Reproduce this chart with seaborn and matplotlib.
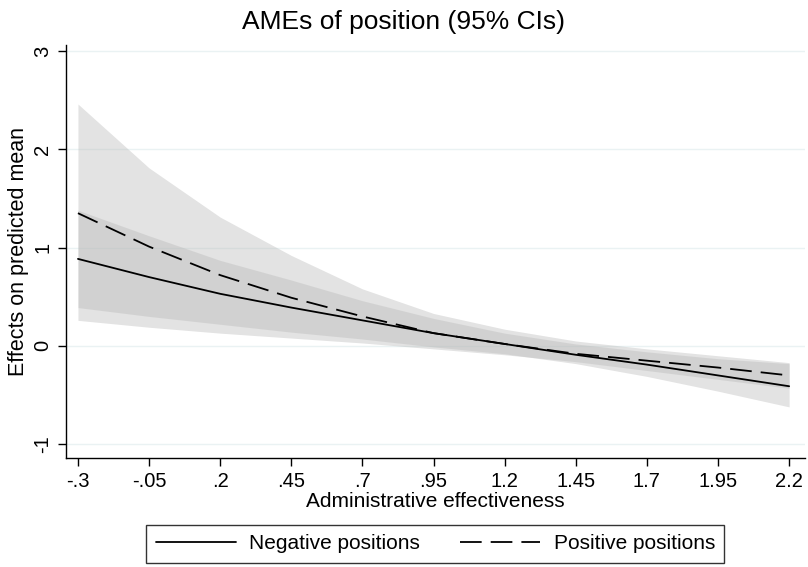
import numpy as np
import pandas as pd
import matplotlib
matplotlib.use("Agg")
import matplotlib.pyplot as plt
import seaborn as sns

# ---- data ----
x_vals = [-0.3, -0.05, 0.2, 0.45, 0.7, 0.95, 1.2, 1.45, 1.7, 1.95, 2.2]
x_tick_labels = ["-.3", "-.05", ".2", ".45", ".7", ".95", "1.2", "1.45", "1.7", "1.95", "2.2"]

neg_mean = [0.885, 0.70, 0.53, 0.39, 0.26, 0.13, 0.02, -0.09, -0.19, -0.30, -0.41]
neg_lo = [0.39, 0.30, 0.22, 0.14, 0.07, -0.01, -0.08, -0.18, -0.31, -0.46, -0.62]
neg_hi = [1.38, 1.12, 0.87, 0.67, 0.46, 0.28, 0.13, 0.02, -0.06, -0.13, -0.18]

pos_mean = [1.35, 1.01, 0.72, 0.49, 0.30, 0.13, 0.02, -0.08, -0.15, -0.22, -0.30]
pos_lo = [0.26, 0.19, 0.13, 0.08, 0.03, -0.03, -0.09, -0.16, -0.25, -0.34, -0.43]
pos_hi = [2.46, 1.81, 1.31, 0.92, 0.58, 0.33, 0.17, 0.05, -0.03, -0.10, -0.17]

y_ticks = [-1, 0, 1, 2, 3]
series_names = ["Negative positions", "Positive positions"]

df = pd.DataFrame({
    "x": x_vals * 2,
    "y": neg_mean + pos_mean,
    "series": [series_names[0]] * len(x_vals) + [series_names[1]] * len(x_vals),
})

sns.set_theme(style="white")
plt.rcParams["font.family"] = ["Liberation Sans", "DejaVu Sans"]
plt.rcParams["text.color"] = "black"
plt.rcParams["axes.labelcolor"] = "black"
plt.rcParams["xtick.color"] = "black"
plt.rcParams["ytick.color"] = "black"

FS = 15

fig = plt.figure(figsize=(8.08, 5.67), dpi=100)
ax = fig.add_axes([0.0817, 0.1922, 0.9143, 0.7284])

grid_col = "#eaf2f3"
for yt in y_ticks:
    ax.axhline(yt, color=grid_col, lw=1.0, zorder=0)

band_col = "#b7b7b7"
ax.fill_between(x_vals, pos_lo, pos_hi, color=band_col, alpha=0.39, lw=0, zorder=1)
ax.fill_between(x_vals, neg_lo, neg_hi, color=band_col, alpha=0.39, lw=0, zorder=1)

sns.lineplot(data=df, x="x", y="y", style="series", hue="series",
             palette=["black", "black"],
             dashes={series_names[0]: "", series_names[1]: (12, 5)},
             lw=1.3, ax=ax, zorder=3, legend=True)

ax.set_xlim(-0.342, 2.255)
ax.set_ylim(-1.14, 3.06)
ax.set_xticks(x_vals)
ax.set_xticklabels(x_tick_labels, fontsize=14.5)
ax.set_yticks(y_ticks)
ax.set_yticklabels([str(v) for v in y_ticks], fontsize=14.5, rotation=90, va="center")
ax.tick_params(axis="both", direction="out", length=6, width=1, color="black",
               labelcolor="black", left=True, bottom=True, pad=4)

for s in ["top", "right"]:
    ax.spines[s].set_visible(False)
for s in ["left", "bottom"]:
    ax.spines[s].set_color("black")
    ax.spines[s].set_linewidth(1.0)

ax.set_xlabel("Administrative effectiveness", fontsize=FS, labelpad=1, color="black")
ax.set_ylabel("Effects on predicted mean", fontsize=15.5, labelpad=3, color="black")
fig.suptitle("AMEs of position (95% CIs)", fontsize=19, x=0.5, y=0.982, color="black")

handles, labels = ax.get_legend_handles_labels()
leg = ax.legend(handles, labels, loc="upper center", bbox_to_anchor=(0.5, -0.162),
                ncol=2, frameon=True, fancybox=False, fontsize=FS,
                handlelength=3.85, handletextpad=0.65, columnspacing=1.9,
                borderpad=0.45, borderaxespad=0.0, edgecolor="black")
leg.get_frame().set_linewidth(1.0)
for t in leg.get_texts():
    t.set_color("black")

fig.savefig("out.png", dpi=100, facecolor="white")
